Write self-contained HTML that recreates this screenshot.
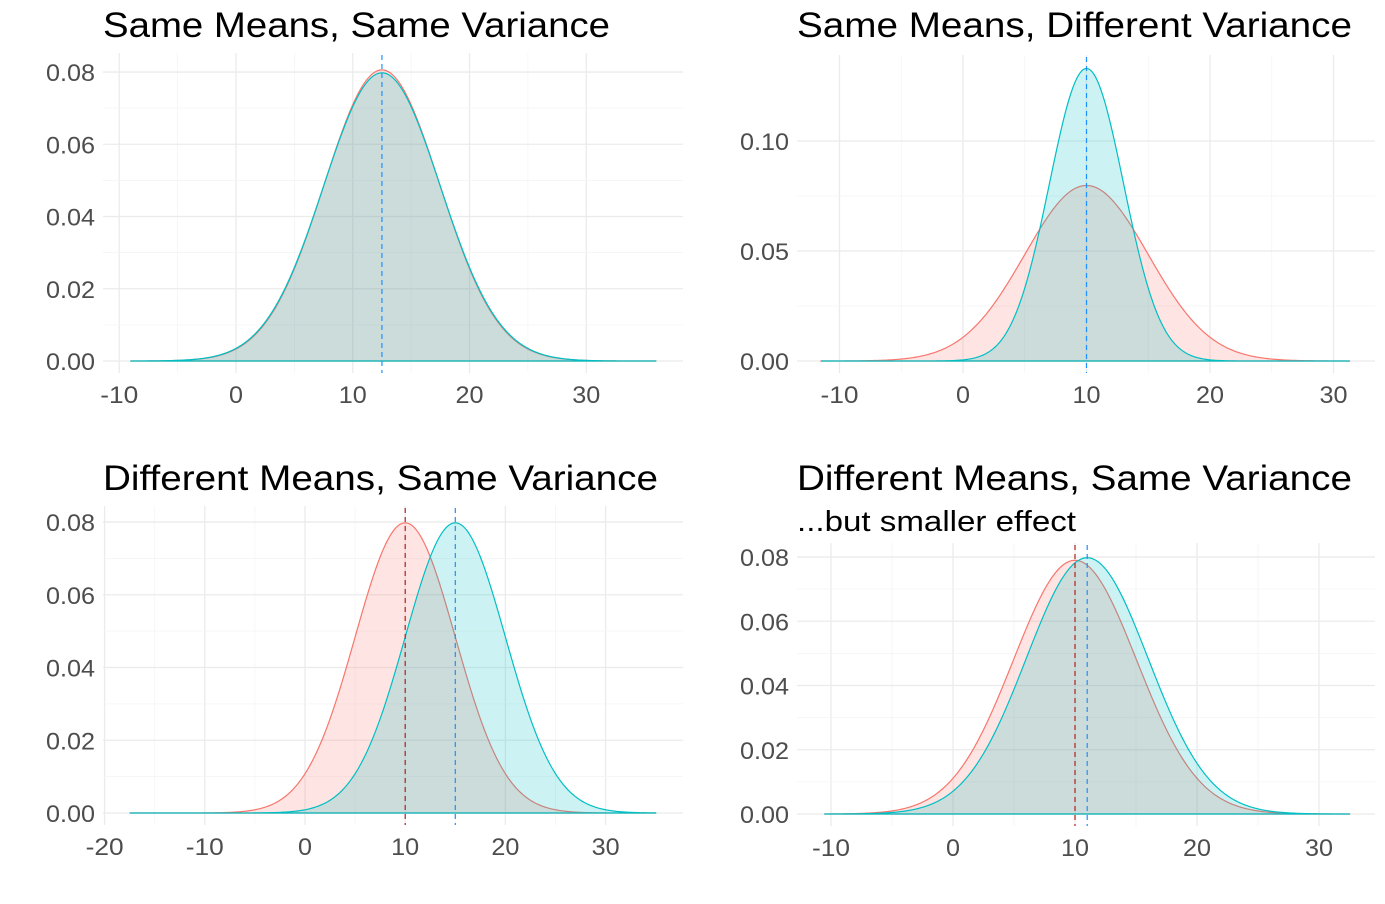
<!DOCTYPE html>
<html><head><meta charset="utf-8">
<style>
html,body{margin:0;padding:0;background:#fff;}
svg{display:block;font-family:"Liberation Sans",Arial,sans-serif;}
</style></head>
<body>
<svg id="s" width="1385" height="904" xmlns="http://www.w3.org/2000/svg">
<text x="103" y="37" font-size="35" fill="#000" textLength="507" lengthAdjust="spacingAndGlyphs">Same Means, Same Variance</text>
<text x="797" y="37" font-size="35" fill="#000" textLength="555" lengthAdjust="spacingAndGlyphs">Same Means, Different Variance</text>
<text x="103" y="490" font-size="35" fill="#000" textLength="555" lengthAdjust="spacingAndGlyphs">Different Means, Same Variance</text>
<text x="797" y="490" font-size="35" fill="#000" textLength="555" lengthAdjust="spacingAndGlyphs">Different Means, Same Variance</text>
<text x="797" y="531" font-size="29" fill="#000" textLength="279" lengthAdjust="spacingAndGlyphs">...but smaller effect</text>
</svg>
<script>
var S=document.getElementById('s'),NS='http://www.w3.org/2000/svg';
function el(t,a,txt){var e=document.createElementNS(NS,t);for(var k in a)e.setAttribute(k,a[k]);if(txt!==undefined)e.textContent=txt;S.appendChild(e);return e;}
function dn(x,m,s){return Math.exp(-0.5*((x-m)/s)*((x-m)/s))/(s*Math.sqrt(2*Math.PI));}
function tl(s){var w=0;for(var i=0;i<s.length;i++){var c=s[i];w+=(c=='-')?10:(c=='.')?7:14;}return w;}
function panel(p){
 var X=function(v){return p.x0+(v-p.xv0)*p.xs;}, Y=function(v){return p.y0-v*p.ys;};
 for(var v=p.xmin;v<=p.xmax;v+=p.xstep/2){var maj=Math.abs((v/p.xstep)-Math.round(v/p.xstep))<1e-6;
  el('line',{x1:X(v),x2:X(v),y1:p.top,y2:p.bot,stroke:maj?'#ebebeb':'#f4f4f4','stroke-width':maj?1.3:0.8});}
 for(var i=0;i<p.yticks.length;i++){var v=p.yticks[i];
  el('line',{x1:p.left,x2:p.right,y1:Y(v),y2:Y(v),stroke:'#ebebeb','stroke-width':1.3});
  if(i<p.yticks.length-1){var m=(v+p.yticks[i+1])/2;el('line',{x1:p.left,x2:p.right,y1:Y(m),y2:Y(m),stroke:'#f4f4f4','stroke-width':0.8});}
  el('text',{x:p.left-8,y:Y(v)+9,'font-size':24,fill:'#4d4d4d','text-anchor':'end',textLength:tl(p.ylab[i]),lengthAdjust:'spacingAndGlyphs'},p.ylab[i]);}
 for(var v=p.xmin;v<=p.xmax;v+=p.xstep){var s=String(v);el('text',{x:X(v),y:p.bot+30,'font-size':24,fill:'#4d4d4d','text-anchor':'middle',textLength:tl(s),lengthAdjust:'spacingAndGlyphs'},s);}
 p.curves.forEach(function(c){
  var d='M'+X(p.c0)+','+Y(0);
  for(var k=0;k<=300;k++){var x=p.c0+(p.c1-p.c0)*k/300;d+=' L'+X(x).toFixed(2)+','+Y(dn(x,c.m,c.s)).toFixed(2);}
  d+=' L'+X(p.c1)+','+Y(0)+'Z';
  el('path',{d:d,fill:c.col,'fill-opacity':0.2,stroke:c.col,'stroke-width':1.2});
 });
 p.vl.forEach(function(v){el('line',{x1:X(v.x),x2:X(v.x),y1:p.top+2,y2:p.bot,stroke:v.col,'stroke-width':1.2,'stroke-dasharray':'5,4'});});
}
var R='#F8766D',B='#00BFC4';
panel({x0:236,xv0:0,xs:11.675,y0:361,ys:3612,top:53,bot:373,left:103,right:683,xmin:-10,xmax:30,xstep:10,
 yticks:[0,0.02,0.04,0.06,0.08],ylab:['0.00','0.02','0.04','0.06','0.08'],c0:-9,c1:36,
 curves:[{m:12.5,s:4.95,col:R},{m:12.5,s:5,col:B}],vl:[{x:12.5,col:'#1E90FF'}]});
panel({x0:963,xv0:0,xs:12.35,y0:361,ys:2200,top:55,bot:373,left:797,right:1375,xmin:-10,xmax:30,xstep:10,
 yticks:[0,0.05,0.10],ylab:['0.00','0.05','0.10'],c0:-11.5,c1:31.3,
 curves:[{m:10,s:5,col:R},{m:10,s:3,col:B}],vl:[{x:10,col:'#1E90FF'}]});
panel({x0:305,xv0:0,xs:10.02,y0:813,ys:3637,top:506,bot:825,left:103,right:683,xmin:-20,xmax:30,xstep:10,
 yticks:[0,0.02,0.04,0.06,0.08],ylab:['0.00','0.02','0.04','0.06','0.08'],c0:-17.5,c1:35,
 curves:[{m:10,s:5,col:R},{m:15,s:5,col:B}],vl:[{x:10,col:'#B22222'},{x:15,col:'#1E90FF'}]});
panel({x0:953,xv0:0,xs:12.2,y0:814,ys:3212,top:543,bot:826,left:797,right:1375,xmin:-10,xmax:30,xstep:10,
 yticks:[0,0.02,0.04,0.06,0.08],ylab:['0.00','0.02','0.04','0.06','0.08'],c0:-10.5,c1:32.5,
 curves:[{m:10,s:5.05,col:R},{m:11,s:5,col:B}],vl:[{x:10,col:'#B22222'},{x:11,col:'#1E90FF'}]});
</script>
</body></html>
